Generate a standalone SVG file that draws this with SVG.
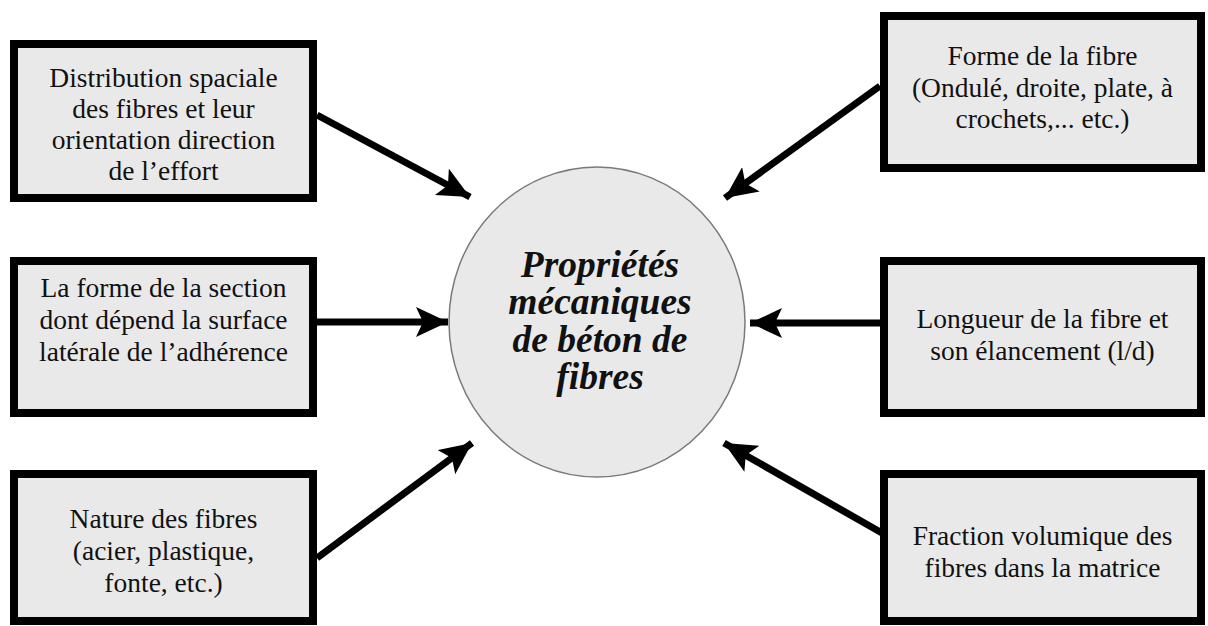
<svg xmlns="http://www.w3.org/2000/svg" width="1208" height="626" viewBox="0 0 1208 626">
<style>
.box{fill:#e9e9e9;stroke:#000;stroke-width:8}
.t{font-family:"Liberation Serif","Times New Roman",serif;font-size:27.5px;fill:#111;text-anchor:middle}
.c{font-family:"Liberation Serif","Times New Roman",serif;font-size:37.5px;font-weight:bold;font-style:italic;fill:#111;text-anchor:middle}
.arr{stroke:#000;stroke-width:7;fill:none;marker-end:url(#ah)}
</style>
<defs>
<marker id="ah" markerUnits="userSpaceOnUse" markerWidth="34" markerHeight="30" refX="32" refY="15" orient="auto">
<path d="M0,0 L32,15 L0,30 L7,15 Z" fill="#000"/>
</marker>
</defs>
<rect width="1208" height="626" fill="#fff"/>
<g id="connectors">
<line class="arr" x1="317" y1="115" x2="470" y2="197"/>
<line class="arr" x1="880" y1="86" x2="725" y2="198"/>
<line class="arr" x1="317" y1="322" x2="448" y2="322"/>
<line class="arr" x1="880" y1="323" x2="750" y2="323"/>
<line class="arr" x1="317" y1="558" x2="472" y2="443"/>
<line class="arr" x1="882" y1="533" x2="724" y2="443"/>
</g>
<g id="center">
<ellipse cx="597" cy="322" rx="148" ry="155" fill="#e9e9e9" stroke="#7a7a7a" stroke-width="1.5"/>
<text class="c" x="600" y="277">Propriétés</text>
<text class="c" x="600" y="314">mécaniques</text>
<text class="c" x="600" y="352">de béton de</text>
<text class="c" x="600" y="389">fibres</text>
</g>
<g id="n1">
<rect class="box" x="14" y="44" width="299" height="154"/>
<text class="t" x="163.5" y="87">Distribution spaciale</text>
<text class="t" x="163.5" y="118">des fibres et leur</text>
<text class="t" x="163.5" y="149">orientation direction</text>
<text class="t" x="163.5" y="180">de l’effort</text>
</g>
<g id="n2">
<rect class="box" x="884" y="16" width="317" height="152"/>
<text class="t" x="1042.5" y="65">Forme de la fibre</text>
<text class="t" x="1042.5" y="97">(Ondulé, droite, plate, à</text>
<text class="t" x="1042.5" y="128">crochets,... etc.)</text>
</g>
<g id="n3">
<rect class="box" x="14" y="261" width="299" height="152"/>
<text class="t" x="163.5" y="297">La forme de la section</text>
<text class="t" x="163.5" y="329">dont dépend la surface</text>
<text class="t" x="163.5" y="361">latérale de l’adhérence</text>
</g>
<g id="n4">
<rect class="box" x="884" y="261" width="317" height="152"/>
<text class="t" x="1042.5" y="328">Longueur de la fibre et</text>
<text class="t" x="1042.5" y="360">son élancement (l/d)</text>
</g>
<g id="n5">
<rect class="box" x="14" y="474" width="299" height="147"/>
<text class="t" x="163.5" y="528">Nature des fibres</text>
<text class="t" x="163.5" y="560">(acier, plastique,</text>
<text class="t" x="163.5" y="592">fonte, etc.)</text>
</g>
<g id="n6">
<rect class="box" x="884" y="474" width="317" height="147"/>
<text class="t" x="1042.5" y="545">Fraction volumique des</text>
<text class="t" x="1042.5" y="577">fibres dans la matrice</text>
</g>
</svg>
